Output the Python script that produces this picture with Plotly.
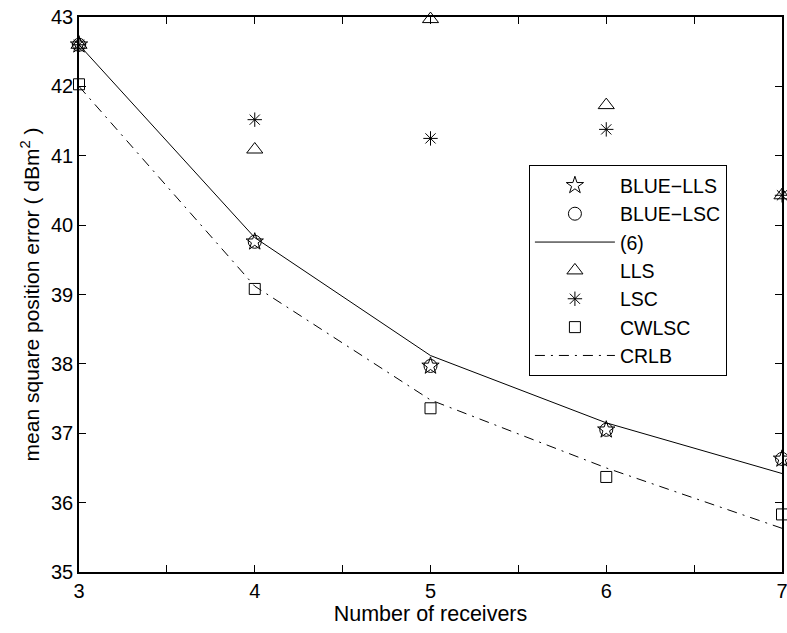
import plotly.graph_objects as go

receivers = [3, 4, 5, 6, 7]
blue_lls = [42.60, 39.76, 37.97, 37.05, 36.63]
blue_lsc = [42.60, 39.76, 37.97, 37.05, 36.63]
eq6 = [42.60, 39.82, 38.12, 37.15, 36.42]
lls = [42.60, 41.09, 42.97, 41.73, 40.43]
lsc = [42.60, 41.52, 41.25, 41.38, 40.43]
cwlsc = [42.03, 39.08, 37.36, 36.37, 35.83]
crlb = [42.00, 39.12, 37.48, 36.50, 35.63]

y_ticks = [35, 36, 37, 38, 39, 40, 41, 42, 43]

FONT = "Liberation Sans, Arial, Helvetica, sans-serif"

fig = go.Figure()


def mk(symbol, size):
    return dict(symbol=symbol, size=size, color="black", line=dict(color="black", width=1))


fig.add_trace(go.Scatter(x=receivers, y=blue_lls, mode="markers", name="BLUE\u2212LLS",
                         marker=mk("star-open", 13)))
fig.add_trace(go.Scatter(x=receivers, y=blue_lsc, mode="markers", name="BLUE\u2212LSC",
                         marker=mk("circle-open", 13)))
fig.add_trace(go.Scatter(x=receivers, y=eq6, mode="lines", name="(6)",
                         line=dict(color="black", width=1)))
fig.add_trace(go.Scatter(x=receivers, y=lls, mode="markers", name="LLS",
                         marker=mk("triangle-up-open", 14)))
fig.add_trace(go.Scatter(x=receivers, y=lsc, mode="markers", name="LSC",
                         marker=mk("asterisk-open", 12)))
fig.add_trace(go.Scatter(x=receivers, y=cwlsc, mode="markers", name="CWLSC",
                         marker=mk("square-open", 11)))
fig.add_trace(go.Scatter(x=receivers, y=crlb, mode="lines", name="CRLB",
                         line=dict(color="black", width=1, dash="10px,6px,2px,6px")))

axis_common = dict(
    ticks="inside", ticklen=7, tickcolor="black", tickwidth=1,
    showgrid=False, zeroline=False, automargin=False,
    showline=True, linecolor="black", linewidth=1.5, mirror="ticks",
    tickfont=dict(family=FONT, size=20, color="black"),
    ticklabeloverflow="allow",
)

fig.update_layout(
    width=787, height=633,
    margin=dict(l=79, r=5, t=17, b=61),
    paper_bgcolor="white", plot_bgcolor="white",
    font=dict(family=FONT, size=20, color="black"),
    showlegend=True,
    legend=dict(x=0.64, y=0.733, xanchor="left", yanchor="top",
                bgcolor="white", bordercolor="black", borderwidth=1,
                font=dict(family=FONT, size=19.5, color="black"),
                tracegroupgap=0, itemwidth=80),
    xaxis=dict(range=[3, 7], tickmode="linear", tick0=3, dtick=1,
               minor=dict(dtick=0.5, tick0=3, ticks="inside", ticklen=7, tickcolor="black", showgrid=False),
               title=dict(text="Number of receivers", standoff=4,
                          font=dict(family=FONT, size=21.5, color="black")),
               **axis_common),
    yaxis=dict(range=[35, 43], tickvals=y_ticks,
               title=dict(text="mean square position error ( dBm<sup>2</sup> )", standoff=6,
                          font=dict(family=FONT, size=21, color="black")),
               **axis_common),
)
fig.update_traces(cliponaxis=False)
fig.write_html(
    "out.html",
    config={"displayModeBar": False},
    post_script="document.body.style.margin='0';document.body.style.overflow='hidden';",
)
